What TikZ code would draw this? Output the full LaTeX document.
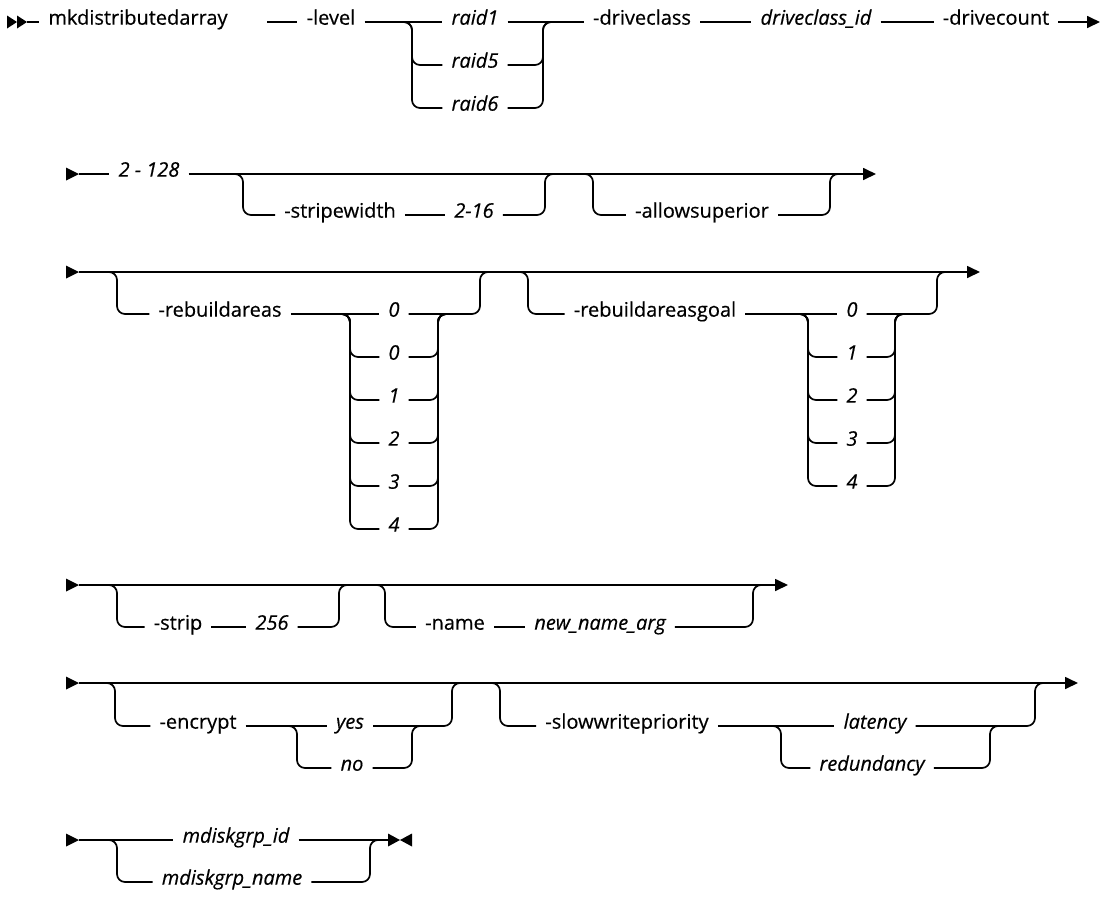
\documentclass[tikz,border=0pt]{standalone}
\usepackage{fontspec}
\setmainfont{Open Sans}[UprightFeatures={FakeBold=0.45}, ItalicFeatures={FakeBold=0.45}]
\usetikzlibrary{arrows.meta,positioning}

\tikzset{
  kw/.style={anchor=mid, inner xsep=9pt, inner ysep=0pt, font=\fontsize{20}{22}\selectfont},
  var/.style={kw, font=\fontsize{20}{22}\selectfont\itshape},
  rail/.style={line width=1.7pt, rounded corners=8pt},
  railend/.style={rail, -{Triangle[length=13pt,width=12pt]}},
}
\newcommand\railin[2]{\fill (66,#1-6.5) -- (79,#1) -- (66,#1+6.5) -- cycle; \coordinate (#2) at (79,#1);}

\begin{document}
\begin{tikzpicture}[x=1pt, y=-1pt]
  \useasboundingbox (0,0) rectangle (1111,898);

  % row 1
  \fill (7,15.5) -- (17,22) -- (7,28.5) -- cycle;
  \fill (17,15.5) -- (27,22) -- (17,28.5) -- cycle;
  \coordinate (in1) at (27,22);
  \node[kw] (cmd) at (138,22) {mkdistributedarray};
  \coordinate (lv0) at (267,22);
  \node[kw] (level) at (331,22) {-level};
  \node[var] (raid1) at (475,22) {raid1};
  \node[var] (raid5) at (475,65) {raid5};
  \node[var] (raid6) at (475,108) {raid6};
  \coordinate (lvL) at (412,22);
  \coordinate (lvR) at (543,22);
  \node[kw] (dcls) at (642,22) {-driveclass};
  \node[var] (dclsid) at (816,22) {driveclass\_id};
  \node[kw] (dcnt) at (996,22) {-drivecount};
  \coordinate (out1) at (1100,22);

  \draw[rail] (in1) -- (cmd.mid west);
  \draw[rail] (lv0) -- (level.mid west);
  \draw[rail] (level.mid east) -- (raid1.mid west);
  \draw[rail] (raid1.mid east) -- (dcls.mid west);
  \foreach \r in {raid5,raid6} {
    \draw[rail] ([xshift=-10pt]lvL) -- (lvL) |- (\r.mid west);
    \draw[rail] (\r.mid east) -| (lvR) -- ([xshift=10pt]lvR);
  }
  \draw[rail] (dcls.mid east) -- (dclsid.mid west);
  \draw[rail] (dclsid.mid east) -- (dcnt.mid west);
  \draw[railend] (dcnt.mid east) -- (out1);

  % row 2
  \railin{174}{in2}
  \node[var] (cnt) at (149,174) {2 - 128};
  \coordinate (out2) at (876,174);
  \coordinate (swL) at (243,174);
  \coordinate (swR) at (545,174);
  \node[kw] (sw) at (340,215) {-stripewidth};
  \node[var] (swv) at (474,215) {2-16};
  \coordinate (asL) at (593,174);
  \coordinate (asR) at (830,174);
  \node[kw] (asup) at (702,215) {-allowsuperior};

  \draw[rail] (in2) -- (cnt.mid west);
  \draw[railend] (cnt.mid east) -- (out2);
  \draw[rail] ([xshift=-10pt]swL) -- (swL) |- (sw.mid west);
  \draw[rail] (sw.mid east) -- (swv.mid west);
  \draw[rail] (swv.mid east) -| (swR) -- ([xshift=10pt]swR);
  \draw[rail] ([xshift=-10pt]asL) -- (asL) |- (asup.mid west);
  \draw[rail] (asup.mid east) -| (asR) -- ([xshift=10pt]asR);

  % row 3
  \railin{272}{in3}
  \coordinate (out3) at (980,272);
  \coordinate (raL) at (117,272);
  \coordinate (raR) at (480,272);
  \node[kw] (ra) at (220,314) {-rebuildareas};
  \coordinate (raSL) at (350,314);
  \coordinate (raSR) at (438,314);
  \foreach \v [count=\k from 0] in {0,0,1,2,3,4}
    \node[var] (ra\k) at (394,314+43*\k) {\v};
  \coordinate (rgL) at (528,272);
  \coordinate (rgR) at (937,272);
  \node[kw] (rg) at (655,314) {-rebuildareasgoal};
  \coordinate (rgSL) at (808,314);
  \coordinate (rgSR) at (895,314);
  \foreach \v [count=\k from 0] in {0,1,2,3,4}
    \node[var] (rg\k) at (852,314+43*\k) {\v};

  \draw[railend] (in3) -- (out3);
  \draw[rail] ([xshift=-10pt]raL) -- (raL) |- (ra.mid west);
  \draw[rail] (ra.mid east) -- (ra0.mid west);
  \draw[rail] (ra0.mid east) -| (raR) -- ([xshift=10pt]raR);
  \foreach \k in {1,...,5} {
    \draw[rail] ([xshift=-10pt]raSL) -- (raSL) |- (ra\k.mid west);
    \draw[rail] (ra\k.mid east) -| (raSR) -- ([xshift=10pt]raSR);
  }
  \draw[rail] ([xshift=-10pt]rgL) -- (rgL) |- (rg.mid west);
  \draw[rail] (rg.mid east) -- (rg0.mid west);
  \draw[rail] (rg0.mid east) -| (rgR) -- ([xshift=10pt]rgR);
  \foreach \k in {1,...,4} {
    \draw[rail] ([xshift=-10pt]rgSL) -- (rgSL) |- (rg\k.mid west);
    \draw[rail] (rg\k.mid east) -| (rgSR) -- ([xshift=10pt]rgSR);
  }

  % row 4
  \railin{585}{in4}
  \coordinate (out4) at (788,585);
  \coordinate (stL) at (117,585);
  \coordinate (stR) at (339,585);
  \node[kw] (st) at (178,627) {-strip};
  \node[var] (stv) at (272,627) {256};
  \coordinate (nmL) at (385,585);
  \coordinate (nmR) at (753,585);
  \node[kw] (nm) at (455,627) {-name};
  \node[var] (nmv) at (600,627) {new\_name\_arg};

  \draw[railend] (in4) -- (out4);
  \draw[rail] ([xshift=-10pt]stL) -- (stL) |- (st.mid west);
  \draw[rail] (st.mid east) -- (stv.mid west);
  \draw[rail] (stv.mid east) -| (stR) -- ([xshift=10pt]stR);
  \draw[rail] ([xshift=-10pt]nmL) -- (nmL) |- (nm.mid west);
  \draw[rail] (nm.mid east) -- (nmv.mid west);
  \draw[rail] (nmv.mid east) -| (nmR) -- ([xshift=10pt]nmR);

  % row 5
  \railin{683}{in5}
  \coordinate (out5) at (1078,683);
  \coordinate (enL) at (115,683);
  \coordinate (enR) at (452,683);
  \node[kw] (en) at (198,726) {-encrypt};
  \coordinate (enSL) at (297,726);
  \coordinate (enSR) at (412,726);
  \node[var] (yes) at (350,726) {yes};
  \node[var] (no) at (352,768) {no};
  \coordinate (swpL) at (500,683);
  \coordinate (swpR) at (1035,683);
  \node[kw] (swp) at (627,726) {-slowwritepriority};
  \coordinate (swpSL) at (781,726);
  \coordinate (swpSR) at (990,726);
  \node[var] (lat) at (875,726) {latency};
  \node[var] (red) at (872,768) {redundancy};

  \draw[railend] (in5) -- (out5);
  \draw[rail] ([xshift=-10pt]enL) -- (enL) |- (en.mid west);
  \draw[rail] (en.mid east) -- (yes.mid west);
  \draw[rail] (yes.mid east) -| (enR) -- ([xshift=10pt]enR);
  \draw[rail] ([xshift=-10pt]enSL) -- (enSL) |- (no.mid west);
  \draw[rail] (no.mid east) -| (enSR) -- ([xshift=10pt]enSR);
  \draw[rail] ([xshift=-10pt]swpL) -- (swpL) |- (swp.mid west);
  \draw[rail] (swp.mid east) -- (lat.mid west);
  \draw[rail] (lat.mid east) -| (swpR) -- ([xshift=10pt]swpR);
  \draw[rail] ([xshift=-10pt]swpSL) -- (swpSL) |- (red.mid west);
  \draw[rail] (red.mid east) -| (swpSR) -- ([xshift=10pt]swpSR);

  % row 6
  \railin{840}{in6}
  \coordinate (mdL) at (117,840);
  \coordinate (mdR) at (370,840);
  \node[var] (mdid) at (236,840) {mdiskgrp\_id};
  \node[var] (mdname) at (232,882) {mdiskgrp\_name};
  \coordinate (stop) at (388,840);
  \fill (388,833.5) -- (400,840) -- (388,846.5) -- cycle;
  \fill (412,833.5) -- (400,840) -- (412,846.5) -- cycle;

  \draw[rail] (in6) -- (mdid.mid west);
  \draw[rail] (mdid.mid east) -- (stop);
  \draw[rail] ([xshift=-10pt]mdL) -- (mdL) |- (mdname.mid west);
  \draw[rail] (mdname.mid east) -| (mdR) -- ([xshift=10pt]mdR);
\end{tikzpicture}
\end{document}
